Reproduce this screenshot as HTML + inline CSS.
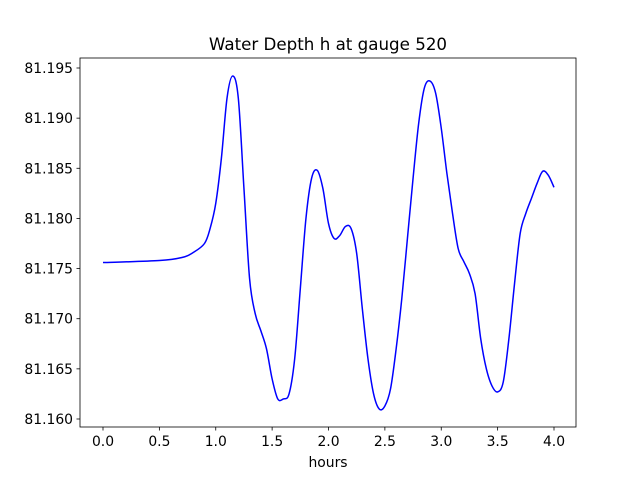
<!DOCTYPE html>
<html><head><meta charset="utf-8"><style>
body{margin:0;background:#fff;font-family:"DejaVu Sans","Liberation Sans",sans-serif;}
svg text{font-family:"DejaVu Sans","Liberation Sans",sans-serif;}
</style></head><body>
<svg id="chart" width="640" height="480" viewBox="0 0 640 480" xmlns="http://www.w3.org/2000/svg">
<rect width="640" height="480" fill="#fff"/>
<text x="328" y="50" font-size="16.7" text-anchor="middle">Water Depth h at gauge 520</text>
<g id="ticks"></g>
<path id="line" fill="none" stroke="#0000ff" stroke-width="1.5"/>
<rect x="80" y="58" width="496" height="369" fill="none" stroke="#000" stroke-width="0.8"/>
<text x="328" y="467" font-size="13.9" text-anchor="middle">hours</text>
</svg>
<script>
const times=[0,0.5,0.7,0.8,0.9,0.95,1.0,1.05,1.1,1.15,1.2,1.25,1.3,1.35,1.4,1.45,1.5,1.55,1.6,1.65,1.7,1.75,1.8,1.85,1.9,1.95,2.0,2.05,2.1,2.15,2.2,2.25,2.3,2.35,2.4,2.45,2.5,2.55,2.6,2.65,2.7,2.75,2.8,2.85,2.9,2.95,3.0,3.05,3.1,3.15,3.2,3.25,3.3,3.35,3.4,3.45,3.5,3.55,3.6,3.65,3.7,3.75,3.8,3.85,3.9,3.95,4.0];
const depths=[81.1756,81.1758,81.1761,81.1766,81.1775,81.1790,81.1815,81.1860,81.1920,81.1942,81.1920,81.1830,81.1740,81.1705,81.1688,81.1670,81.1640,81.1620,81.1620,81.1625,81.1660,81.1730,81.1800,81.1840,81.1848,81.1830,81.1795,81.1780,81.1783,81.1792,81.1790,81.1765,81.1710,81.1660,81.1625,81.1610,81.1613,81.1630,81.1670,81.1720,81.1780,81.1840,81.1895,81.1930,81.1937,81.1925,81.1890,81.1845,81.1805,81.1770,81.1757,81.1745,81.1725,81.1680,81.1650,81.1633,81.1627,81.1637,81.1680,81.1735,81.1785,81.1805,81.1820,81.1835,81.1847,81.1843,81.1831];
const xTicks=[0,0.5,1,1.5,2,2.5,3,3.5,4];
const xTickLabels=["0.0","0.5","1.0","1.5","2.0","2.5","3.0","3.5","4.0"];
const yTicks=[81.160,81.165,81.170,81.175,81.180,81.185,81.190,81.195];
const yTickLabels=["81.160","81.165","81.170","81.175","81.180","81.185","81.190","81.195"];
const xs=t=>103+t*112.75;
const ys=v=>419-(v-81.160)/0.035*351;
const NS="http://www.w3.org/2000/svg";
const g=document.getElementById('ticks');
function mk(tag,attrs){const e=document.createElementNS(NS,tag);for(const k in attrs)e.setAttribute(k,attrs[k]);return e;}
xTicks.forEach((t,i)=>{
 const l=mk('line',{x1:xs(t),x2:xs(t),y1:427,y2:430.5,stroke:'#000','stroke-width':0.8});
 
 
 g.appendChild(l);
 const tx=mk('text',{x:xs(t),y:446,'font-size':13.9,'text-anchor':'middle'});
 
 
 tx.textContent=xTickLabels[i];g.appendChild(tx);
});
yTicks.forEach((v,i)=>{
 const l=mk('line',{x1:76.5,x2:80,y1:ys(v),y2:ys(v),stroke:'#000','stroke-width':0.8});
 
 
 g.appendChild(l);
 const tx=mk('text',{x:73,y:ys(v)+5,'font-size':13.9,'text-anchor':'end'});
 
 
 tx.textContent=yTickLabels[i];g.appendChild(tx);
});
const P=times.map((t,i)=>[xs(t),ys(depths[i])]);
let d='M'+P[0][0]+','+P[0][1];
for(let i=0;i<P.length-1;i++){
 const p0=P[Math.max(0,i-1)],p1=P[i],p2=P[i+1],p3=P[Math.min(P.length-1,i+2)];
 const c1=[p1[0]+(p2[0]-p0[0])/6,p1[1]+(p2[1]-p0[1])/6];
 const c2=[p2[0]-(p3[0]-p1[0])/6,p2[1]-(p3[1]-p1[1])/6];
 d+=' C'+c1[0]+','+c1[1]+' '+c2[0]+','+c2[1]+' '+p2[0]+','+p2[1];
}
document.getElementById('line').setAttribute('d',d);
</script>
</body></html>
